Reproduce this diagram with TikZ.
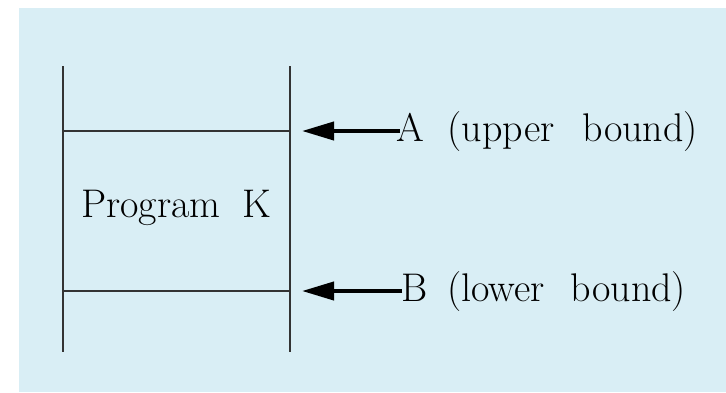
\documentclass[tikz,border=0pt]{standalone}
\usetikzlibrary{arrows.meta}
\definecolor{paleblue}{HTML}{D9EEF5}
\definecolor{ink}{HTML}{333333}

\begin{document}
\begin{tikzpicture}[x=0.5pt, y=-0.5pt, line width=1pt,
    lbl/.style={anchor=base west, inner sep=0pt, font=\fontsize{20}{24}\selectfont},
    arw/.style={-{Triangle[length=16pt,width=9pt]}, line width=2pt}]
  \useasboundingbox (0,0) rectangle (726,392);
  \fill[paleblue] (19,8) rectangle (726,392);
  % the two walls of the program
  \draw[ink] (63,66) coordinate (LT) -- (63,352) coordinate (LB);
  \draw[ink] (290,66) coordinate (RT) -- (290,352) coordinate (RB);
  % the two bounds
  \draw[ink] (63,131) coordinate (UL) -- (290,131) coordinate (UR);
  \draw[ink] (63,291) coordinate (DL) -- (290,291) coordinate (DR);
  \node[lbl] (prog) at (80,217) {Program\hspace{11pt}K};
  \node[lbl] (upper) at (395,141) {A\hspace{12pt}(upper\hspace{14pt}bound)};
  \node[lbl] (lower) at (400,301) {B\hspace{10pt}(lower\hspace{13pt}bound)};
  \draw[arw] (upper.west |- UR) ++(5,0) -- ([xshift=12*0.5pt]UR);
  \draw[arw] (lower.west |- DR) ++(2,0) -- ([xshift=12*0.5pt]DR);
\end{tikzpicture}
\end{document}
